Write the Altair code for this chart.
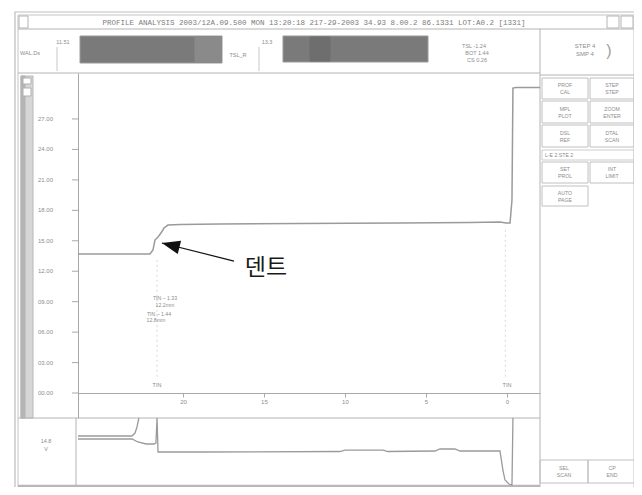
import altair as alt
import pandas as pd

# ---------------- data ----------------
# main profile: position (mm, counted down toward 0) vs height
prof_pos = [26.48, 22.04, 21.85, 21.73, 21.54, 21.36, 21.17, 20.93, 20.19, 17.72,
            12.78, 6.60, 2.28, 0.43, 0.06, -0.19, -0.31, -0.37, -0.55, -2.04]
prof_h = [13.69, 13.69, 14.09, 15.07, 15.37, 15.76, 16.26, 16.55, 16.60, 16.65,
          16.70, 16.75, 16.80, 16.85, 16.75, 16.75, 19.01, 30.05, 30.10, 30.10]

# lower trace panel (two traces)
low_a_pos = [26.48, 23.15, 22.96, 22.84, 22.72]
low_a_v = [7.35, 7.35, 7.79, 8.68, 10.0]
low_b_pos = [26.48, 23.15, 22.78, 22.28, 21.79, 21.67, 21.60, 21.54, 21.42, 18.95,
             10.31, 10.00, 7.65, 7.35, 4.44, 4.14, 3.21, 2.90, 0.43, 0.25, 0.12,
             -0.12, -0.31, -0.37]
low_b_v = [6.91, 6.91, 6.47, 6.18, 6.18, 6.32, 10.0, 5.0, 5.0, 5.0,
           5.07, 5.29, 5.29, 5.07, 5.15, 5.44, 5.44, 5.15, 5.15, 2.35, 0.88,
           0.29, 0.15, 10.0]

x_ticks = [20, 15, 10, 5, 0]
y_ticks = [0, 3, 6, 9, 12, 15, 18, 21, 24, 27]
y_tick_labels = [f"{v:05.2f}" for v in y_ticks]

tin_pos = [21.6, 0.0]
tin_h = [0.79, 0.79]

note_text = ["TIN \u2013 1.33", "12.2mm", "TIN \u2013 1.44", "12.8mm"]
note_pos = [21.11, 21.11, 21.48, 21.67]
note_h = [9.36, 8.67, 7.78, 7.19]

arrow_tip = (21.30, 14.78)
arrow_tail = (16.85, 13.00)
dent_label = "덴트"
dent_at = (14.88, 12.32)

title_text = "PROFILE ANALYSIS 2003/12A.09.500 MON 13:20:18 217-29-2003 34.93 8.00.2 86.1331 LOT:A0.2 [1331]"
btn_labels = [[("PROF", "CAL"), ("STEP", "STEP")],
              [("MPL", "PLOT"), ("ZOOM", "ENTER")],
              [("DSL", "REF"), ("DTAL", "SCAN")],
              [("SET", "PROL"), ("INT", "LIMIT")],
              [("AUTO", "PAGE")]]
bottom_btns = [("SEL", "SCAN"), ("CP", "END")]

# ---------------- layout / style ----------------
OX, OY = 78, 73            # page position of plot origin
W, H = 462, 345
FRAME = "#b4b4b4"
TXT = "#8c8c8c"
LINE = "#9a9a9a"
FONT = "Liberation Sans"

one = pd.DataFrame({"k": [0]})


def px(x):
    return x - OX


def py(y):
    return y - OY


def rule(x1, y1, x2, y2, color=FRAME, w=1.0, dash=None):
    kw = dict(color=color, strokeWidth=w)
    if dash:
        kw["strokeDash"] = dash
    return alt.Chart(one).mark_rule(**kw).encode(
        x=alt.value(px(x1)), y=alt.value(py(y1)),
        x2=alt.value(px(x2)), y2=alt.value(py(y2)))


def rect(x1, y1, x2, y2, fill=None, stroke=FRAME, w=1.0):
    kw = dict(stroke=stroke, strokeWidth=w)
    if fill:
        kw["fill"] = fill
    else:
        kw["fillOpacity"] = 0
    return alt.Chart(one).mark_rect(**kw).encode(
        x=alt.value(px(x1)), y=alt.value(py(y1)),
        x2=alt.value(px(x2)), y2=alt.value(py(y2)))


def text(x, y, s, size=6, color=TXT, align="center", font=FONT, weight="normal"):
    return alt.Chart(one).mark_text(text=s, fontSize=size, color=color, align=align,
                                    baseline="middle", font=font,
                                    fontWeight=weight).encode(
        x=alt.value(px(x)), y=alt.value(py(y)))


chrome = []
# outer frame
chrome.append(rect(15, 12, 637, 491, stroke="#bdbdbd", w=1.2))
chrome.append(rect(18, 15, 634, 488, stroke="#c4c4c4", w=1.0))
# title bar
chrome.append(rule(18, 29, 634, 29))
chrome.append(rect(19, 16, 28, 28))
chrome.append(rect(607, 16, 619, 28))
chrome.append(rect(621, 16, 633, 28))
chrome.append(text(314, 22.5, title_text, size=7.5, font="Liberation Mono", color="#7c7c7c"))
# header panel
chrome.append(rule(18, 73, 540, 73))
chrome.append(rule(540, 29, 540, 488))
chrome.append(text(30, 53, "WAL.Ds", size=5.5))
chrome.append(text(63, 42, "11.51", size=5.5))
chrome.append(rule(57, 47, 57, 71, color="#c8c8c8"))
chrome.append(rect(80, 36, 222, 63, fill="#7a7a7a", stroke="#9a9a9a"))
chrome.append(rect(195, 37, 221, 62, fill="#8a8a8a", stroke="#8a8a8a"))
chrome.append(text(238, 55, "TSL_R", size=5.5))
chrome.append(text(267, 42, "13.3", size=5.5))
chrome.append(rule(259, 47, 259, 71, color="#c8c8c8"))
chrome.append(rect(283, 36, 428, 62, fill="#7a7a7a", stroke="#9a9a9a"))
chrome.append(rect(310, 37, 330, 61, fill="#6e6e6e", stroke="#6e6e6e"))
chrome.append(text(474, 46, "TSL  -1.24", size=5.5))
chrome.append(text(477, 53, "BOT  1.44", size=5.5))
chrome.append(text(477, 60, "CS  0.26", size=5.5))
# right header box
chrome.append(rule(540, 75, 636, 75))
chrome.append(text(585, 46, "STEP 4", size=6))
chrome.append(text(585, 54, "SMP  4", size=6))
chrome.append(text(609, 51, ")", size=16, color="#a0a0a0"))
# right buttons
rows = [(78, 99), (101, 123), (125, 147), (162, 183), (186, 206)]
cols = [(542, 588), (590, 634)]
for (y1, y2), labs in zip(rows, btn_labels):
    for (x1, x2), (l1, l2) in zip(cols, labs):
        chrome.append(rect(x1, y1, x2, y2, stroke="#c0c0c0"))
        cy = (y1 + y2) / 2
        chrome.append(text((x1 + x2) / 2, cy - 3.5, l1, size=5.2))
        chrome.append(text((x1 + x2) / 2, cy + 3.5, l2, size=5.2))
chrome.append(rect(542, 150, 634, 160, stroke="#cccccc"))
chrome.append(text(545, 155, "L-E 2  STE 2", size=5.2, align="left"))
for (x1, x2), (l1, l2) in zip([(540, 588), (588, 636)], bottom_btns):
    chrome.append(rect(x1, 460, x2, 483, stroke="#c0c0c0"))
    chrome.append(text((x1 + x2) / 2, 468, l1, size=5.2))
    chrome.append(text((x1 + x2) / 2, 475, l2, size=5.2))
# left gray strip
chrome.append(rect(21, 76, 33, 418, fill="#d6d6d6", stroke="#b8b8b8"))
chrome.append(rect(21, 76, 25, 418, fill="#b4b4b4", stroke="#b4b4b4"))
chrome.append(rect(23, 78, 31, 84, fill="#ffffff", stroke="#b0b0b0"))
chrome.append(rect(23, 88, 31, 96, fill="#ffffff", stroke="#b0b0b0"))
# lower panel frame
chrome.append(rule(18, 418, 540, 418))
chrome.append(rule(76, 418, 76, 487))
chrome.append(rule(18, 486, 540, 486, color="#b8b8b8", w=2.5))
chrome.append(text(46, 441, "14.8", size=5.5))
chrome.append(text(46, 449, "V", size=5.5))

# ---------------- data layers ----------------
xsc = alt.Scale(domain=[-2.04, 26.48], reverse=True, nice=False, zero=False)
ysc = alt.Scale(domain=[-2.46, 31.53], nice=False, zero=False)

prof_df = pd.DataFrame({"pos": prof_pos, "h": prof_h, "i": range(len(prof_pos))})
profile = alt.Chart(prof_df).mark_line(color=LINE, strokeWidth=1.5).encode(
    x=alt.X("pos:Q", scale=xsc,
            axis=alt.Axis(values=x_ticks, offset=-25, title=None, grid=False,
                          labelFontSize=6, labelColor=TXT, labelFont=FONT,
                          tickSize=4, labelPadding=1, tickColor="#a8a8a8",
                          domainColor="#a8a8a8", labelFlush=False,
                          labelOverlap=False)),
    y=alt.Y("h:Q", scale=ysc,
            axis=alt.Axis(title=None, grid=False, labels=False, ticks=False,
                          domainColor="#a8a8a8")),
    order="i:Q")

# y-axis ticks and labels, placed through the y scale
yt_df = pd.DataFrame({"h": y_ticks, "t": y_tick_labels})
y_tick_marks = alt.Chart(yt_df).mark_rule(color="#a8a8a8", strokeWidth=1).encode(
    y="h:Q", x=alt.value(-6), x2=alt.value(0))
y_tick_text = alt.Chart(yt_df).mark_text(fontSize=6, color=TXT, font=FONT,
                                         align="right", baseline="middle").encode(
    y="h:Q", x=alt.value(-25), text="t:N")

dash_df = pd.DataFrame({"pos": [21.6, 0.1], "h": [1.6, 1.6], "h2": [13.4, 16.4]})
dashes = alt.Chart(dash_df).mark_rule(color="#d8d8d8", strokeDash=[2, 3], strokeWidth=1).encode(
    x="pos:Q", y="h:Q", y2="h2:Q")

tin_df = pd.DataFrame({"pos": tin_pos, "h": tin_h})
tins = alt.Chart(tin_df).mark_text(text="TIN", fontSize=5.5, color=TXT, font=FONT).encode(
    x="pos:Q", y="h:Q")

note_df = pd.DataFrame({"pos": note_pos, "h": note_h, "t": note_text})
notes = alt.Chart(note_df).mark_text(fontSize=5.2, color=TXT, font=FONT).encode(
    x="pos:Q", y="h:Q", text="t:N")

arr_df = pd.DataFrame({"pos": [arrow_tip[0]], "h": [arrow_tip[1]],
                       "pos2": [arrow_tail[0]], "h2": [arrow_tail[1]]})
arrow_line = alt.Chart(arr_df).mark_rule(color="#111111", strokeWidth=1.2).encode(
    x="pos:Q", y="h:Q", x2="pos2:Q", y2="h2:Q")
arrow_head = alt.Chart(arr_df).mark_point(
    shape="M0,0L0.38,1L-0.38,1Z", filled=True, size=1296, angle=284,
    color="#111111", opacity=1).encode(x="pos:Q", y="h:Q")

lab_df = pd.DataFrame({"pos": [dent_at[0]], "h": [dent_at[1]], "t": [dent_label]})
dent = alt.Chart(lab_df).mark_text(fontSize=23, color="#1a1a1a",
                                   font="Noto Sans CJK KR").encode(
    x="pos:Q", y="h:Q", text="t:N")

main = alt.layer(profile, y_tick_marks, y_tick_text, dashes, tins, notes,
                 arrow_line, arrow_head, dent)

low_df = pd.concat([
    pd.DataFrame({"pos": low_a_pos, "v": low_a_v, "s": "a", "i": range(len(low_a_pos))}),
    pd.DataFrame({"pos": low_b_pos, "v": low_b_v, "s": "b", "i": range(len(low_b_pos))}),
])
lower = alt.Chart(low_df).mark_line(color=LINE, strokeWidth=1.3).encode(
    x=alt.X("pos:Q", scale=xsc),
    y=alt.Y("v:Q", scale=alt.Scale(domain=[0, 10], range=[413, 345], nice=False, zero=False),
            axis=None),
    detail="s:N",
    order="i:Q")

chart = alt.layer(*chrome, main, lower).resolve_scale(y="independent").properties(
    width=W, height=H,
    autosize=alt.AutoSizeParams(type="none"),
    padding={"left": 70, "top": 65, "right": 94, "bottom": 69},
    background="#ffffff",
).configure_view(strokeWidth=0)

chart.save("out.html", embed_options={"renderer": "svg", "actions": False})
